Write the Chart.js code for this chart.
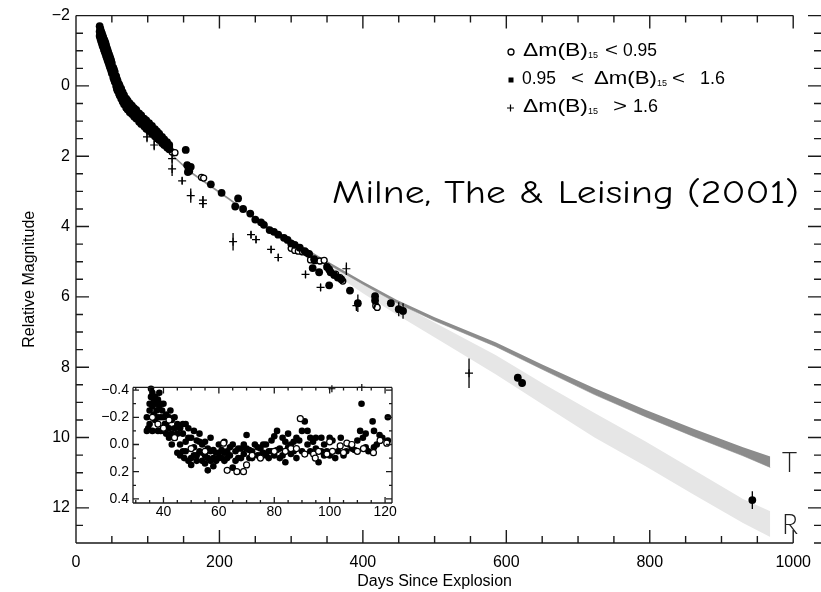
<!DOCTYPE html>
<html>
<head>
<meta charset="utf-8">
<script src="https://cdn.jsdelivr.net/npm/chart.js@4.4.1/dist/chart.umd.min.js"></script>
<style>
  html, body { margin: 0; padding: 0; background: #fff; }
  #wrap { position: relative; width: 821px; height: 592px; }
  #main { position: absolute; left: 0; top: 0; }
  #inset { position: absolute; left: 95px; top: 375px; background: #fff; }
</style>
</head>
<body>
<div id="wrap">
  <canvas id="main" width="821" height="592"></canvas>
  <canvas id="inset" width="305" height="150"></canvas>
</div>
<script>
const FONT = "'Liberation Sans', Arial, Helvetica, sans-serif";

// model bands (days, magnitude edges)
const tDays = [120, 160, 213, 260, 309, 350, 400, 447, 500, 585, 650, 723, 793, 861, 930, 968];
const tLow  = [1.68, 2.43, 3.18, 3.88, 4.48, 4.98, 5.56, 6.08, 6.58, 7.29, 7.92, 8.6, 9.2, 9.75, 10.28, 10.54];
const tHigh = [1.73, 2.48, 3.23, 3.94, 4.55, 5.05, 5.64, 6.17, 6.68, 7.41, 8.06, 8.78, 9.4, 9.97, 10.52, 10.85];

const rDays = [300, 350, 400, 447, 520, 585, 654, 723, 793, 861, 930, 968];
const rLow  = [4.48, 5.05, 5.6, 6.15, 6.95, 7.65, 8.5, 9.3, 10.1, 10.92, 11.75, 12.1];
const rHigh = [4.55, 5.2, 5.9, 6.5, 7.4, 8.2, 9.1, 10.0, 10.8, 11.62, 12.43, 12.83];

// 0.95 < dm15 < 1.6  [day, mag]
const filledPts = [
  [33,-1.7],[33,-1.55],[33,-1.42],[34,-1.62],[34,-1.48],[34,-1.35],[35,-1.55],[35,-1.42],[35,-1.28],
  [36,-1.5],[36,-1.37],[36,-1.22],[37,-1.44],[37,-1.3],[37,-1.15],[38,-1.38],[38,-1.24],[38,-1.1],
  [39,-1.32],[39,-1.18],[39,-1.03],[40,-1.28],[40,-1.13],[40,-0.98],[41,-1.22],[41,-1.07],[41,-0.92],
  [42,-1.15],[42,-1.0],[42,-0.85],[43,-1.08],[43,-0.94],[43,-0.8],[44,-1.02],[44,-0.88],[44,-0.74],
  [45,-0.95],[45,-0.82],[45,-0.68],[46,-0.9],[46,-0.76],[46,-0.62],[47,-0.84],[47,-0.7],[47,-0.56],
  [48,-0.78],[48,-0.64],[48,-0.5],[49,-0.72],[49,-0.58],[49,-0.44],[50,-0.65],[50,-0.5],[50,-0.36],
  [52,-0.52],[52,-0.38],[52,-0.24],[53,-0.46],[53,-0.32],[53,-0.18],[54,-0.4],[54,-0.25],[54,-0.12],
  [56,-0.28],[56,-0.13],[56,0.0],[57,-0.2],[57,-0.06],[57,0.08],[58,-0.14],[58,0.0],[58,0.14],
  [60,-0.05],[60,0.1],[60,0.22],[61,0.0],[61,0.15],[61,0.27],[63,0.08],[63,0.23],[63,0.36],
  [65,0.18],[65,0.32],[65,0.44],[67,0.26],[67,0.4],[67,0.52],[70,0.36],[70,0.5],[70,0.62],
  [72,0.42],[72,0.55],[72,0.67],[75,0.5],[75,0.62],[75,0.75],[78,0.56],[78,0.68],[78,0.8],
  [81,0.63],[81,0.75],[81,0.87],[84,0.68],[84,0.81],[84,0.93],[88,0.78],[88,0.9],[88,1.02],
  [91,0.84],[91,0.96],[91,1.08],[95,0.93],[95,1.04],[95,1.15],[98,0.98],[98,1.1],[98,1.22],
  [102,1.06],[102,1.17],[102,1.28],[106,1.14],[106,1.25],[106,1.36],[110,1.23],[110,1.33],[110,1.43],
  [113,1.29],[113,1.39],[113,1.49],[116,1.36],[116,1.45],[116,1.54],[120,1.45],[120,1.53],[120,1.62],
  [123,1.52],[123,1.6],[123,1.68],[127,1.6],[127,1.67],[127,1.75],[130,1.68],[130,1.74],[130,1.8],
  [34.5,-1.45],[37.5,-1.27],[40.5,-1.1],[43.5,-0.91],[46.5,-0.73],[49.5,-0.54],[51,-0.44],[55,-0.19],
  [59,0.05],[62,0.19],[64,0.28],[66,0.36],[68,0.44],[69,0.47],[73,0.58],[76,0.64],[79,0.7],[83,0.79],
  [86,0.85],[93,1.0],[100,1.14],[104,1.21],[108,1.29],[118,1.49],[125,1.63],
  [153,1.82],[155,2.25],[156,2.45],[157,2.35],[158,2.42],[160,2.3],[188,2.8],[203,3.04],[222,3.43],[226,3.2],
  [233,3.5],[243,3.63],[250,3.8],[258,3.88],[262,3.95],[270,4.1],[276,4.15],[282,4.23],[290,4.32],[295,4.38],
  [300,4.48],[305,4.52],[312,4.6],[319,4.7],[325,4.78],[332,4.93],[330,5.18],[339,5.3],[350,5.15],[353,5.22],
  [355,5.3],[360,5.38],[365,5.45],[370,5.5],[353,5.67],[382,5.82],[393,6.18],[417,5.98],[417,6.1],[439,6.18],
  [450,6.35],[456,6.4],[616,8.3],[622,8.45],[943,11.78]
];
const filledErr = [[393,6.18,0.25],[417,6.1,0.2],[450,6.35,0.2],[456,6.4,0.22],[616,8.3,0.1],[622,8.45,0.1],[943,11.78,0.25]];

// dm15 < 0.95
const openPts = [
  [36,-1.37],[40,-1.13],[45,-0.82],[50,-0.5],[55,-0.19],[60,0.1],[66,0.36],[72,0.55],[80,0.73],[88,0.9],
  [95,1.04],[102,1.17],[110,1.33],[120,1.53],[134,1.88],[138,1.9],[175,2.6],[178,2.62],[300,4.62],[305,4.68],
  [310,4.7],[316,4.72],[322,4.75],[327,4.95],[333,4.97],[340,4.98],[346,4.96],[362,5.35],[368,5.45],[372,5.55],
  [418,6.25],[420,6.3]
];

// dm15 > 1.6  [day, mag, err]
const plusPts = [
  [99,1.45,0.15],[109,1.68,0.15],[118,1.6,0.1],[134,2.07,0.15],[134,2.36,0.2],[148,2.7,0.1],[160,3.12,0.2],
  [177,3.25,0.12],[177,3.35,0.12],[219,4.43,0.25],[244,4.23,0.1],[251,4.37,0.1],[272,4.65,0.1],[282,4.88,0.1],
  [320,5.36,0.1],[341,5.73,0.1],[377,5.2,0.18],[391,6.25,0.15],[548,8.17,0.42]
];

// inset: residuals [day, dmag]
const insetFilled = [
  [34,-0.1],[34.5,-0.12],[35,-0.25],[35,-0.3],[35.5,-0.41],[36,-0.38],[36,-0.28],[36.5,-0.22],[37,-0.35],[37,-0.3],
  [37.5,-0.25],[38,-0.33],[38,-0.2],[38.5,-0.28],[39,-0.3],[39,-0.1],[39.5,-0.25],[40,-0.2],[40,-0.1],[41,-0.22],
  [41,-0.08],[42,-0.2],[42,-0.12],[43,-0.18],[43,-0.08],[44,-0.2],[44,-0.05],[45,-0.15],[45,0.06],[46,-0.12],
  [46,0.0],[47,-0.08],[47,0.05],[48,-0.15],[48,-0.02],[49,-0.12],[49,0.12],[50,-0.05],[50,0.1],[51,-0.1],
  [51,0.02],[52,-0.03],[52,0.08],[53,-0.08],[53,0.05],[54,0.0],[54,0.12],[55,-0.02],[55,0.08],[56,0.03],
  [56,0.19],[57,0.05],[57,-0.05],[58,0.1],[58,0.16],[59,0.06],[60,0.0],[60,0.1],[61,0.04],[62,0.12],
  [62,-0.02],[63,0.05],[64,0.08],[65,0.17],[65,0.0],[66,0.05],[67,0.1],[68,0.03],[69,0.07],[70,-0.07],
  [70,0.03],[71,0.1],[72,0.05],[73,0.0],[74,0.08],[75,0.03],[76,0.06],[77,0.0],[78,0.05],[79,-0.03],
  [80,0.08],[80,-0.06],[81,-0.1],[82,0.03],[82,0.1],[83,-0.05],[84,0.05],[84,0.13],[85,-0.08],[85,0.02],
  [86,0.0],[87,0.05],[88,-0.05],[89,-0.03],[90,-0.1],[91,-0.17],[92,0.0],[93,-0.05],[94,-0.02],[95,0.03],
  [96,0.13],[97,-0.05],[98,0.08],[99,0.05],[100,0.08],[101,-0.03],[102,0.1],[104,-0.05],[106,0.05],[107,0.0],
  [108,0.03],[111.5,-0.3],[111,-0.1],[112,-0.05],[113,-0.08],[114,0.05],[115.5,-0.17],[116,-0.1],[117,0.0],[118,-0.07],
  [121,-0.2],[121,-0.03],
  [34,-0.2],[35,-0.15],[35.5,-0.35],[36,-0.1],[36.5,-0.32],[37,-0.18],[38,-0.1],[38.5,-0.38],[39,-0.2],[40,-0.3],
  [40.5,-0.15],[41,-0.15],[42,-0.05],[42.5,-0.25],[43,0.0],[44,-0.12],[45,-0.08],[46,0.08],[47,-0.15],[47.5,0.1],
  [48,0.05],[49,-0.05],[50,0.15],[51,0.08],[52,0.12],[53,-0.02],[54,0.06],[55,0.14],[56,0.1],[57,0.12],
  [58,0.04],[59,0.12],[60,0.06],[61,0.1],[62,0.06],[63,0.1],[64,0.02],[66,0.12],[67,0.03],[68,0.1],
  [69,0.0],[71,0.04],[72,0.1],[74,0.02],[75,0.08],[76,0.0],[77,0.08],[78,0.1],[79,0.05],[81,0.04],
  [83,0.08],[84,-0.02],[86,0.07],[87,-0.02],[88,0.1],[90,0.05],[92,-0.1],[93,0.05],[95,-0.05],[97,0.05],
  [98,0.0],[100,-0.05],[103,0.05],[105,0.08],[109,0.04],[110,-0.03],[113,0.02],[116,0.02],[119,-0.05]
];
const insetOpen = [
  [36,-0.2],[38,-0.15],[40,-0.12],[42,-0.18],[44,-0.05],[50,0.03],[55,0.05],[61.7,-0.01],[63,0.19],[66.5,0.2],
  [68.9,0.2],[70,0.15],[72,0.08],[75,0.1],[80,0.05],[84,0.05],[86,0.03],[88,0.03],[89.4,-0.19],[91,0.07],
  [94.2,0.07],[94.8,0.1],[96,0.05],[99,0.07],[100,-0.02],[101,0.05],[103.8,0.01],[105,0.06],[106.2,-0.01],[108,0.0],
  [110,0.05],[112.2,0.03],[115.8,0.06],[118.2,-0.03],[120.6,-0.01]
];
const insetPlus = [[100.8,-0.41],[111.6,-0.42]];

// ticks
const xTicks = [0, 200, 400, 600, 800, 1000];
const yTicks = [-2, 0, 2, 4, 6, 8, 10, 12];
const insetXTicks = [40, 60, 80, 100, 120];
const insetYTicks = [-0.4, -0.2, 0.0, 0.2, 0.4];

const xy = p => ({x: p[0], y: p[1]});
const band = (days, vals) => days.map((d, i) => ({x: d, y: vals[i]}));
const minus = s => s.replace('-', '\u2212');

function between(list, step, lo, hi) {
  const out = [];
  for (let v = lo; v <= hi + 1e-9; v += step) {
    if (!list.some(t => Math.abs(t - v) < 1e-6)) out.push(+v.toFixed(3));
  }
  return out;
}

// IDL style frame with inward ticks
const idlFrame = {
  id: 'idlFrame',
  afterDraw(chart, args, o) {
    const {ctx, chartArea: a} = chart;
    const sx = chart.scales.x, sy = chart.scales.y;
    const rx = o.rightX || a.right;
    ctx.save();
    ctx.strokeStyle = '#1a1a1a';
    ctx.lineWidth = o.lineWidth;
    ctx.beginPath();
    ctx.moveTo(a.left, a.top); ctx.lineTo(a.right, a.top);
    ctx.moveTo(a.left, a.bottom); ctx.lineTo(a.right, a.bottom);
    ctx.moveTo(a.left, a.top); ctx.lineTo(a.left, a.bottom);
    if (!o.rightX) { ctx.moveTo(a.right, a.top); ctx.lineTo(a.right, a.bottom); }
    const xt = (vals, len) => vals.forEach(v => {
      const p = sx.getPixelForValue(v);
      ctx.moveTo(p, a.bottom); ctx.lineTo(p, a.bottom - len);
      ctx.moveTo(p, a.top); ctx.lineTo(p, a.top + len);
    });
    const yt = (vals, len) => vals.forEach(v => {
      const p = sy.getPixelForValue(v);
      ctx.moveTo(a.left, p); ctx.lineTo(a.left + len, p);
      ctx.moveTo(rx, p); ctx.lineTo(rx - len, p);
    });
    xt(o.xMajor, o.major); xt(o.xMinor, o.minor);
    yt(o.yMajor, o.major); yt(o.yMinor, o.minor);
    ctx.stroke();
    ctx.restore();
  }
};

const errorBars = {
  id: 'errorBars',
  afterDatasetsDraw(chart, args, o) {
    if (!o.bars) return;
    const {ctx} = chart;
    const sx = chart.scales.x, sy = chart.scales.y;
    ctx.save();
    ctx.strokeStyle = '#000';
    ctx.lineWidth = 1.3;
    ctx.beginPath();
    o.bars.forEach(([d, m, e]) => {
      const px = sx.getPixelForValue(d);
      ctx.moveTo(px, sy.getPixelForValue(m - e));
      ctx.lineTo(px, sy.getPixelForValue(m + e));
    });
    ctx.stroke();
    ctx.restore();
  }
};

function fitText(ctx, str, x0, x1, y, font) {
  ctx.font = font;
  const w = ctx.measureText(str).width;
  ctx.save();
  ctx.translate(x0, y);
  ctx.scale((x1 - x0) / w, 1);
  ctx.fillText(str, 0, 0);
  ctx.restore();
}

const annotations = {
  id: 'annotations',
  afterDraw(chart) {
    const ctx = chart.ctx;
    ctx.save();
    ctx.fillStyle = '#000';
    ctx.textBaseline = 'alphabetic';
    const lf = '18px ' + FONT;
    const sf = '9px ' + FONT;
    // legend row 1
    ctx.beginPath(); ctx.arc(511, 52, 3, 0, Math.PI * 2);
    ctx.lineWidth = 1.3; ctx.strokeStyle = '#000'; ctx.stroke();
    fitText(ctx, '\u0394m(B)', 523, 588, 56, lf);
    ctx.font = sf; ctx.fillText('15', 588, 58);
    fitText(ctx, '<', 605, 618, 56, lf);
    fitText(ctx, '0.95', 623, 657, 56, lf);
    // row 2
    ctx.fillRect(508.5, 77.5, 5, 5);
    fitText(ctx, '0.95', 522, 556, 84, lf);
    fitText(ctx, '<', 571, 584, 84, lf);
    fitText(ctx, '\u0394m(B)', 594, 657, 84, lf);
    ctx.font = sf; ctx.fillText('15', 657, 86);
    fitText(ctx, '<', 672, 685, 84, lf);
    fitText(ctx, '1.6', 700, 725, 84, lf);
    // row 3
    ctx.beginPath();
    ctx.moveTo(507, 108); ctx.lineTo(514, 108);
    ctx.moveTo(510.5, 104.5); ctx.lineTo(510.5, 111.5);
    ctx.lineWidth = 1.2; ctx.stroke();
    fitText(ctx, '\u0394m(B)', 523, 588, 112, lf);
    ctx.font = sf; ctx.fillText('15', 588, 114);
    fitText(ctx, '>', 613, 627, 112, lf);
    fitText(ctx, '1.6', 633, 658, 112, lf);

    // citation
    fitText(ctx, 'Milne, The & Leising (2001)', 332, 799, 203,
      "33px 'Comic Sans MS', 'Comic Neue', 'Noto Sans', sans-serif");

    // curve labels
    ctx.fillStyle = '#222';
    fitText(ctx, 'T', 782, 797, 472, "300 28px Lato, 'DejaVu Sans', sans-serif");
    fitText(ctx, 'R', 782, 798, 534, "300 28px Lato, 'DejaVu Sans', sans-serif");
    ctx.restore();
  }
};

const axisFont = {family: FONT, size: 16};

new Chart(document.getElementById('main'), {
  type: 'scatter',
  data: {
    datasets: [
      {type: 'line', data: band(rDays, rLow), borderColor: 'rgba(0,0,0,0)', pointRadius: 0, fill: false, order: 6},
      {type: 'line', data: band(rDays, rHigh), borderColor: 'rgba(0,0,0,0)', pointRadius: 0,
        fill: '-1', backgroundColor: '#e6e6e6', order: 6},
      {type: 'line', data: band(tDays, tLow), borderColor: 'rgba(0,0,0,0)', pointRadius: 0, fill: false, order: 5},
      {type: 'line', data: band(tDays, tHigh), borderColor: '#8c8c8c', borderWidth: 0.6, pointRadius: 0,
        fill: '-1', backgroundColor: '#8c8c8c', order: 5},
      {data: openPts.map(xy), pointStyle: 'circle', pointRadius: 3, pointBackgroundColor: '#fff',
        pointBorderColor: '#000', pointBorderWidth: 1.3, order: 2},
      {data: filledPts.map(xy), pointStyle: 'circle', pointRadius: 3.9, pointBackgroundColor: '#000',
        pointBorderColor: '#000', pointBorderWidth: 0, order: 1},
      {data: plusPts.map(xy), pointStyle: 'cross', pointRadius: 4, pointBorderColor: '#000',
        pointBorderWidth: 1.2, order: 0}
    ]
  },
  options: {
    responsive: false,
    animation: false,
    events: [],
    layout: {padding: {top: 13, right: 20, left: 0, bottom: 0}},
    plugins: {
      legend: {display: false},
      tooltip: {enabled: false},
      idlFrame: {
        lineWidth: 1.4, major: 13, minor: 7, rightX: 821,
        xMajor: xTicks, xMinor: between(xTicks, 50, 0, 1000),
        yMajor: yTicks, yMinor: between(yTicks, 0.5, -2, 13)
      },
      errorBars: {bars: filledErr.concat(plusPts)}
    },
    scales: {
      x: {
        type: 'linear', min: 0, max: 1000,
        grid: {display: false, drawTicks: false}, border: {display: false},
        afterBuildTicks: s => { s.ticks = xTicks.map(v => ({value: v})); },
        afterFit: s => { s.height = 49; },
        ticks: {font: axisFont, color: '#000', padding: 10, maxRotation: 0, autoSkip: false,
          callback: v => String(v)},
        title: {display: true, text: 'Days Since Explosion', font: axisFont, color: '#000',
          padding: {top: 0, bottom: 1}}
      },
      y: {
        type: 'linear', reverse: true, min: -2, max: 13,
        grid: {display: false, drawTicks: false}, border: {display: false},
        afterBuildTicks: s => { s.ticks = yTicks.map(v => ({value: v})); },
        afterFit: s => { s.width = 76; },
        ticks: {font: axisFont, color: '#000', padding: 6, callback: v => minus(String(v))},
        title: {display: true, text: 'Relative Magnitude', font: axisFont, color: '#000',
          padding: {top: 20, bottom: 0}}
      }
    }
  },
  plugins: [idlFrame, errorBars, annotations]
});

const insetFont = {family: FONT, size: 14};

new Chart(document.getElementById('inset'), {
  type: 'scatter',
  data: {
    datasets: [
      {data: insetOpen.map(xy), pointStyle: 'circle', pointRadius: 3, pointBackgroundColor: '#fff',
        pointBorderColor: '#000', pointBorderWidth: 1.2, order: 1},
      {data: insetFilled.map(xy), pointStyle: 'circle', pointRadius: 3.3, pointBackgroundColor: '#000',
        pointBorderColor: '#000', pointBorderWidth: 0, order: 2},
      {data: insetPlus.map(xy), pointStyle: 'cross', pointRadius: 3.5, pointBorderColor: '#000',
        pointBorderWidth: 1.2, order: 0}
    ]
  },
  options: {
    responsive: false,
    animation: false,
    events: [],
    clip: false,
    layout: {padding: {top: 7, right: 8, left: 0, bottom: 0}},
    plugins: {
      legend: {display: false},
      tooltip: {enabled: false},
      idlFrame: {
        lineWidth: 1.3, major: 6, minor: 3,
        xMajor: insetXTicks, xMinor: between(insetXTicks, 5, 30, 120),
        yMajor: insetYTicks, yMinor: [-0.3, -0.1, 0.1, 0.3]
      }
    },
    scales: {
      x: {
        type: 'linear', min: 29, max: 122.5,
        grid: {display: false, drawTicks: false}, border: {display: false},
        afterBuildTicks: s => { s.ticks = insetXTicks.map(v => ({value: v})); },
        afterFit: s => { s.height = 22; },
        ticks: {font: insetFont, color: '#000', padding: 1, maxRotation: 0, autoSkip: false}
      },
      y: {
        type: 'linear', reverse: true, min: -0.42, max: 0.43,
        grid: {display: false, drawTicks: false}, border: {display: false},
        afterBuildTicks: s => { s.ticks = insetYTicks.map(v => ({value: v})); },
        afterFit: s => { s.width = 38; },
        ticks: {font: insetFont, color: '#000', padding: 4, callback: v => minus(v.toFixed(1))}
      }
    }
  },
  plugins: [idlFrame]
});
</script>
</body>
</html>
